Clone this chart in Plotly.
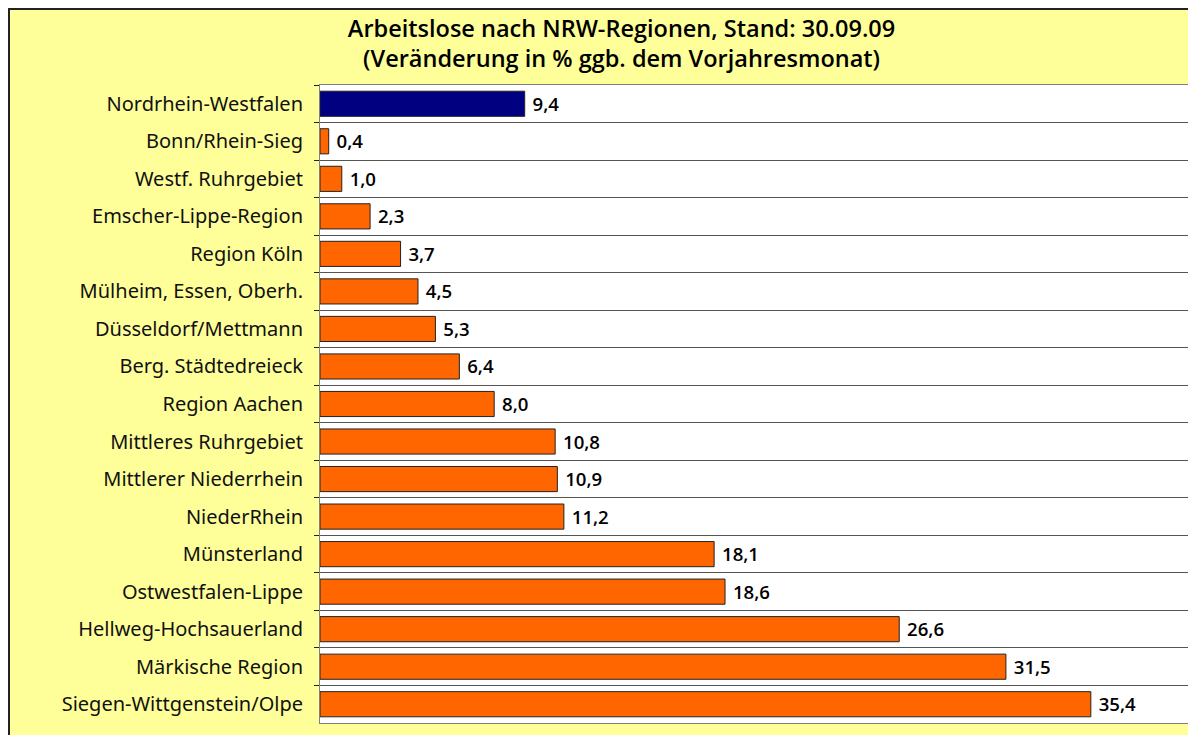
import plotly.graph_objects as go

regions = [
    "Nordrhein-Westfalen",
    "Bonn/Rhein-Sieg",
    "Westf. Ruhrgebiet",
    "Emscher-Lippe-Region",
    "Region Köln",
    "Mülheim, Essen, Oberh.",
    "Düsseldorf/Mettmann",
    "Berg. Städtedreieck",
    "Region Aachen",
    "Mittleres Ruhrgebiet",
    "Mittlerer Niederrhein",
    "NiederRhein",
    "Münsterland",
    "Ostwestfalen-Lippe",
    "Hellweg-Hochsauerland",
    "Märkische Region",
    "Siegen-Wittgenstein/Olpe",
]
change_pct = [9.4, 0.4, 1.0, 2.3, 3.7, 4.5, 5.3, 6.4, 8.0, 10.8, 10.9, 11.2,
              18.1, 18.6, 26.6, 31.5, 35.4]

bar_colors = ["#000080"] + ["#FF6600"] * (len(regions) - 1)
labels = [" " + f"{v:.1f}".replace(".", ",") for v in change_pct]

FONT = "Noto Sans"
# plot area size in px (used to place the outer frame lines)
PW, PH = 871, 638
ML, MT = 312, 77

fig = go.Figure()
fig.add_trace(go.Bar(
    x=change_pct,
    y=regions,
    orientation="h",
    marker=dict(color=bar_colors, line=dict(color="#222222", width=1)),
    text=labels,
    textposition="outside",
    textfont=dict(family="Open Sans", size=20, color="black", weight=600),
    cliponaxis=False,
    hoverinfo="x+y",
))

fig.update_layout(
    width=1196,
    height=735,
    margin=dict(l=ML, r=13, t=MT, b=20),
    paper_bgcolor="#FFFF99",
    plot_bgcolor="white",
    bargap=0.33,
    showlegend=False,
    font=dict(family=FONT, size=20, color="#111111"),
    title=dict(
        text="Arbeitslose nach NRW-Regionen, Stand: 30.09.09<br>"
             "(Veränderung in % ggb. dem Vorjahresmonat)",
        x=0.513, xanchor="center", y=0.961, yanchor="middle",
        font=dict(family="Open Sans", size=23.5, color="black", weight=600),
    ),
    xaxis=dict(
        range=[0, 40],
        showgrid=False,
        showticklabels=False,
        ticks="",
        zeroline=False,
        showline=True,
        mirror=True,
        linecolor="#808080",
        linewidth=1,
    ),
    yaxis=dict(
        autorange="reversed",
        tickson="boundaries",
        ticks="outside",
        ticklen=5,
        tickcolor="#222222",
        showgrid=True,
        gridcolor="#555555",
        gridwidth=1,
        showline=True,
        mirror=True,
        linecolor="#808080",
        ticklabelstandoff=12,
        tickfont=dict(family=FONT, size=20, color="#111111"),
    ),
    shapes=[
        dict(type="line", xref="paper", yref="paper",
             x0=-(ML - 1) / PW, x1=-(ML - 1) / PW, y0=-0.1, y1=1 + MT / PH,
             line=dict(color="#222222", width=2)),
        dict(type="line", xref="paper", yref="paper",
             x0=-ML / PW, x1=1.1, y0=1 + (MT - 1) / PH, y1=1 + (MT - 1) / PH,
             line=dict(color="#222222", width=2)),
    ],
)

fig.write_html("out.html")
